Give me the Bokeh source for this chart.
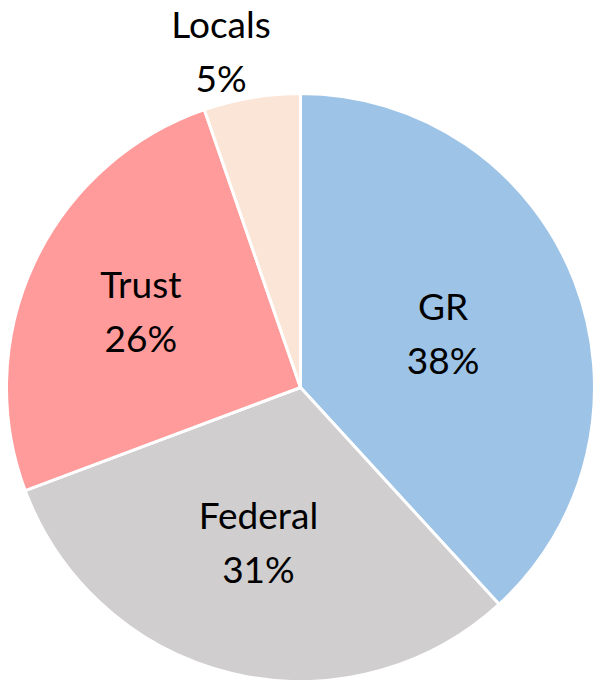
import math
from bokeh.plotting import figure
from bokeh.models import Range1d, ColumnDataSource
from bokeh.core.properties import value
from bokeh.embed import file_html
from bokeh.resources import INLINE

# ---- data ----
categories = ["GR", "Federal", "Trust", "Locals"]
shares = [38.2, 31.1, 25.4, 5.3]
pct_labels = ["38%", "31%", "26%", "5%"]
colors = ["#9DC3E6", "#D0CECE", "#FF9B9B", "#FBE5D6"]

# ---- layout (page pixels) ----
OFF = 0
W, H = 594, 680
cx_page, cy_page, R = 300.0, 387.0, 294.0
label_r = [0.52, 0.54, 0.60, 1.18]
label_dx = [0, -5, 0, -22]
label_dy = [0, 0, -2, 5]
LINE = 27

x0 = (OFF - cx_page) / R
x1 = (OFF + W - cx_page) / R
y_top = (cy_page - OFF) / R
y_bot = (cy_page - OFF - H) / R

p = figure(width=W, height=H, output_backend="svg", toolbar_location=None,
           x_range=Range1d(x0, x1), y_range=Range1d(y_bot, y_top),
           min_border=0, outline_line_color=None, background_fill_color="white")
p.axis.visible = False
p.grid.visible = False

total = sum(shares)
starts, ends, lx, ly = [], [], [], []
cum = 0.0
for i, s in enumerate(shares):
    c0 = cum / total
    c1 = (cum + s) / total
    cum += s
    starts.append(math.pi / 2 - 2 * math.pi * c1)
    ends.append(math.pi / 2 - 2 * math.pi * c0)
    mid = math.pi / 2 - 2 * math.pi * (c0 + c1) / 2
    lx.append(label_r[i] * math.cos(mid))
    ly.append(label_r[i] * math.sin(mid))

src = ColumnDataSource(dict(start=starts, end=ends, color=colors,
                            cat=categories, pct=pct_labels, lx=lx, ly=ly,
                            dx=label_dx,
                            ny=[d - LINE for d in label_dy],
                            py=[d + LINE for d in label_dy]))

p.wedge(x=0, y=0, radius=1.0, start_angle="start", end_angle="end",
        fill_color="color", line_color="white", line_width=3, source=src)

p.text(x="lx", y="ly", text="cat", source=src, text_font=value("Lato"),
       text_font_size="37px", text_align="center", text_baseline="middle",
       x_offset="dx", y_offset="ny", text_color="black")
p.text(x="lx", y="ly", text="pct", source=src, text_font=value("Lato"),
       text_font_size="37px", text_align="center", text_baseline="middle",
       x_offset="dx", y_offset="py", text_color="black")

open("out.html", "w").write(file_html(p, INLINE))
